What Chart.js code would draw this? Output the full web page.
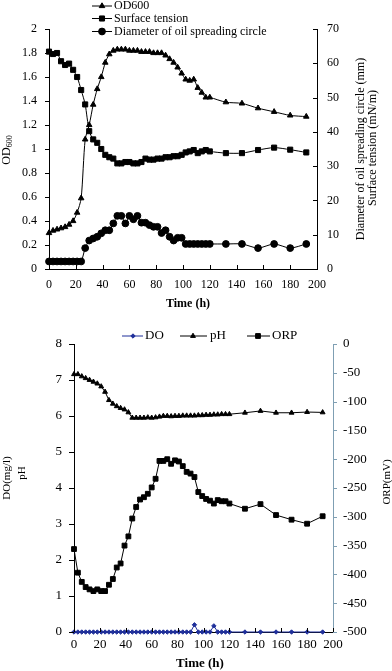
<!DOCTYPE html>
<html>
<head>
<meta charset="utf-8">
<script src="https://cdn.jsdelivr.net/npm/chart.js@4.4.0/dist/chart.umd.min.js"></script>
<style>
html, body { margin: 0; padding: 0; background: #fff; }
#grafHorni { position: absolute; left: 0; top: 0; }
#grafDolni { position: absolute; left: 0; top: 320px; }
</style>
</head>
<body>
<canvas id="grafHorni" width="392" height="316"></canvas>
<canvas id="grafDolni" width="392" height="351"></canvas>
<script>
// ---- data (time in h) ----
const timeH = [0,3,6,9,12,15,18,21,24,27,30,33,36,39,42,45,48,51,54,57,60,63,66,69,72,75,78,81,84,87,90,93,96,99,102,105,108,111,114,117,120,132,144,156,168,180,192];

// top chart
const od600 = [0.30,0.32,0.33,0.34,0.35,0.37,0.40,0.47,0.59,
  1.08,1.20,1.37,1.50,1.60,1.72,1.79,1.82,
  1.83,1.83,1.83,1.82,1.82,1.82,1.81,1.81,1.81,1.80,1.80,1.80,
  1.78,1.75,1.72,1.68,1.63,1.58,1.57,1.58,1.51,1.47,1.43,1.43,
  1.39,1.38,1.34,1.31,1.28,1.27];
const surfaceTension = [63.4,62.7,63.0,60.6,59.5,59.9,58.1,56.0,52.2,
  48.0,40.2,37.8,36.8,35.0,33.3,32.6,32.2,
  30.8,30.8,31.2,31.2,30.8,30.8,31.2,32.2,31.9,31.9,32.2,32.2,
  32.6,32.6,32.9,32.9,33.3,34.0,34.3,34.7,33.8,34.3,34.7,34.3,
  33.8,33.8,34.7,35.4,34.8,34.0];
const oilCircle = [2.2,2.2,2.2,2.2,2.2,2.2,2.2,2.2,2.2,
  6.1,8.3,8.9,9.4,10.4,11.3,11.3,13.3,
  15.5,15.5,13.3,15.5,14.5,15.5,13.5,13.5,12.8,12.3,12.3,10.5,
  11.3,9.4,8.3,9.1,9.1,7.3,7.3,7.3,7.3,7.3,7.3,7.3,
  7.3,7.3,6.1,7.3,6.1,7.3];

// bottom chart
const doVals = [0,0,0,0,0,0,0,0,0,
  0,0,0,0,0,0,0,0,
  0,0,0,0,0,0,0,0,0,0,0,0,
  0,0,0.2,0,0,0,0,0.17,0,0,0,0,
  0,0,0,0,0,0];
const phVals = [7.16,7.16,7.10,7.05,7.00,6.95,6.90,6.82,6.67,
  6.44,6.34,6.27,6.22,6.18,6.10,5.95,5.95,
  5.95,5.95,5.96,5.95,5.96,5.98,6.00,6.00,5.99,6.00,6.00,6.01,
  6.01,6.01,6.01,6.02,6.02,6.03,6.03,6.04,6.04,6.05,6.05,6.05,
  6.09,6.14,6.09,6.09,6.11,6.10];
const orpVals = [-356,-397,-413,-422,-426,-429,-426,-429,-429,
  -418,-408,-388,-381,-350,-334,-303,-283,
  -270,-266,-260,-249,-234,-203,-203,-200,-208,-202,-204,-212,
  -222,-225,-231,-257,-264,-269,-272,-277,-271,-273,-273,-277,
  -286,-278,-297,-305,-312,-299];

const xTicks = [0,20,40,60,80,100,120,140,160,180,200];

const SERIF = "'Liberation Serif', 'Times New Roman', serif";
const ORP_BARVA = "#7f9fb3";
const DO_BARVA = "#1f2f9a";

function body(vals) { return timeH.map(function(t, i) { return { x: t, y: vals[i] }; }); }

// tick marks, rotated titles and legend drawn on the canvas
const decor = {
  id: "decor",
  afterDraw: function(chart, args, opts) {
    const ctx = chart.ctx;
    ctx.save();
    (opts.ticks || []).forEach(function(t) {
      const sc = chart.scales[t.scale];
      ctx.strokeStyle = t.color; ctx.lineWidth = 1;
      ctx.beginPath();
      sc.ticks.forEach(function(tk) {
        const p = Math.round(sc.getPixelForValue(tk.value)) + 0.5;
        if (sc.isHorizontal()) { ctx.moveTo(p, sc.top); ctx.lineTo(p, sc.top + t.len); }
        else { const x = sc.position === "left" ? sc.right : sc.left; ctx.moveTo(x, p); ctx.lineTo(x + t.len, p); }
      });
      ctx.stroke();
    });
    ctx.fillStyle = "#000";
    (opts.titles || []).forEach(function(t) {
      ctx.save();
      ctx.translate(t.x, t.y);
      if (t.rot) ctx.rotate(t.rot);
      ctx.textBaseline = "middle";
      ctx.font = t.font;
      const w1 = ctx.measureText(t.text).width;
      let w2 = 0;
      if (t.sub) { ctx.font = t.subFont; w2 = ctx.measureText(t.sub).width; }
      const x0 = -(w1 + w2) / 2;
      ctx.textAlign = "left";
      ctx.font = t.font;
      ctx.fillText(t.text, x0, 0);
      if (t.sub) { ctx.font = t.subFont; ctx.fillText(t.sub, x0 + w1, 3); }
      ctx.restore();
    });
    (opts.legend || []).forEach(function(it) {
      const ds = chart.data.datasets[it.ds];
      ctx.strokeStyle = ds.borderColor; ctx.fillStyle = ds.backgroundColor; ctx.lineWidth = 1;
      ctx.beginPath(); ctx.moveTo(it.x0, it.y); ctx.lineTo(it.x1, it.y); ctx.stroke();
      Chart.helpers.drawPoint(ctx, { pointStyle: ds.pointStyle, radius: ds.pointRadius, rotation: 0, borderWidth: 1 }, it.mx, it.y);
      ctx.fillStyle = "#000";
      ctx.font = opts.legendFont; ctx.textAlign = "left"; ctx.textBaseline = "middle";
      ctx.fillText(ds.label, it.tx, it.y);
    });
    ctx.restore();
  }
};

function osa(extra) {
  return Object.assign({
    grid: { display: false, drawTicks: false },
    border: { display: true, color: "#000", width: 1 }
  }, extra);
}

window.addEventListener("DOMContentLoaded", function() {
  const fTop = { family: SERIF, size: 12 };
  new Chart(document.getElementById("grafHorni"), {
    type: "line",
    data: {
      datasets: [
        { label: "OD600", data: body(od600), yAxisID: "y", borderColor: "#000", backgroundColor: "#000",
          pointStyle: "triangle", pointRadius: 3.2, borderWidth: 1, tension: 0.25, clip: false },
        { label: "Surface tension", data: body(surfaceTension), yAxisID: "y2", borderColor: "#000", backgroundColor: "#000",
          pointStyle: "rect", pointRadius: 3.6, borderWidth: 1, tension: 0.25, clip: false },
        { label: "Diameter of oil spreading circle", data: body(oilCircle), yAxisID: "y2", borderColor: "#000", backgroundColor: "#000",
          pointStyle: "circle", pointRadius: 3.4, borderWidth: 1, tension: 0.25, clip: false }
      ]
    },
    options: {
      responsive: false, animation: false,
      layout: { padding: { top: 29, left: 0, right: 0, bottom: 0 } },
      plugins: {
        legend: { display: false }, tooltip: { enabled: false },
        decor: {
          ticks: [
            { scale: "x", len: -4, color: "#000" },
            { scale: "y", len: -4, color: "#000" },
            { scale: "y2", len: -4, color: "#000" }
          ],
          titles: [
            { text: "Time (h)", x: 188, y: 304, font: "bold 12px " + SERIF },
            { text: "OD", sub: "600", x: 7, y: 150, rot: -Math.PI / 2, font: "12px " + SERIF, subFont: "8px " + SERIF },
            { text: "Diameter of oil spreading circle (mm)", x: 361, y: 149, rot: -Math.PI / 2, font: "12px " + SERIF },
            { text: "Surface tension (mN/m)", x: 373, y: 148, rot: -Math.PI / 2, font: "12px " + SERIF }
          ],
          legendFont: "12px " + SERIF,
          legend: [
            { ds: 0, x0: 92, x1: 112, mx: 102, tx: 114, y: 6 },
            { ds: 1, x0: 92, x1: 112, mx: 102, tx: 114, y: 18.5 },
            { ds: 2, x0: 92, x1: 112, mx: 102, tx: 114, y: 31.5 }
          ]
        }
      },
      scales: {
        x: osa({ type: "linear", min: 0, max: 200,
          afterBuildTicks: function(s) { s.ticks = xTicks.map(function(v) { return { value: v }; }); },
          ticks: { font: fTop, color: "#000", padding: 9, maxRotation: 0 },
          afterFit: function(s) { s.height = 47; } }),
        y: osa({ position: "left", min: 0, max: 2,
          ticks: { stepSize: 0.2, font: fTop, color: "#000", padding: 12,
            callback: function(v) { return String(Math.round(v * 10) / 10); } },
          afterFit: function(s) { s.width = 49; } }),
        y2: osa({ position: "right", min: 0, max: 70,
          ticks: { stepSize: 10, font: fTop, color: "#000", padding: 10 },
          afterFit: function(s) { s.width = 75; } })
      }
    },
    plugins: [decor]
  });

  const fBot = { family: SERIF, size: 13 };
  new Chart(document.getElementById("grafDolni"), {
    type: "line",
    data: {
      datasets: [
        { label: "DO", data: body(doVals), yAxisID: "y", borderColor: DO_BARVA, backgroundColor: DO_BARVA,
          pointStyle: "rectRot", pointRadius: 2.2, borderWidth: 1, tension: 0, clip: false },
        { label: "pH", data: body(phVals), yAxisID: "y", borderColor: "#000", backgroundColor: "#000",
          pointStyle: "triangle", pointRadius: 2.8, borderWidth: 1, tension: 0, clip: false },
        { label: "ORP", data: body(orpVals), yAxisID: "y2", borderColor: "#000", backgroundColor: "#000",
          pointStyle: "rect", pointRadius: 3.4, borderWidth: 1, tension: 0, clip: false }
      ]
    },
    options: {
      responsive: false, animation: false,
      layout: { padding: { top: 24, left: 0, right: 0, bottom: 0 } },
      plugins: {
        legend: { display: false }, tooltip: { enabled: false },
        decor: {
          ticks: [
            { scale: "x", len: -4, color: "#000" },
            { scale: "y", len: -5, color: "#000" },
            { scale: "y2", len: 4, color: ORP_BARVA }
          ],
          titles: [
            { text: "Time (h)", x: 200, y: 344, font: "bold 13px " + SERIF },
            { text: "DO(mg/l)", x: 7, y: 158, rot: -Math.PI / 2, font: "11px " + SERIF },
            { text: "pH", x: 22, y: 153, rot: -Math.PI / 2, font: "11px " + SERIF },
            { text: "ORP(mV)", x: 387, y: 162, rot: -Math.PI / 2, font: "11px " + SERIF }
          ],
          legendFont: "13px " + SERIF,
          legend: [
            { ds: 0, x0: 122, x1: 143, mx: 133, tx: 145, y: 16 },
            { ds: 1, x0: 180, x1: 207, mx: 193, tx: 210, y: 16 },
            { ds: 2, x0: 247, x1: 270, mx: 258, tx: 272, y: 16 }
          ]
        }
      },
      scales: {
        x: osa({ type: "linear", min: 0, max: 200,
          afterBuildTicks: function(s) { s.ticks = xTicks.map(function(v) { return { value: v }; }); },
          ticks: { font: fBot, color: "#000", padding: 5, maxRotation: 0 },
          afterFit: function(s) { s.height = 39; } }),
        y: osa({ position: "left", min: 0, max: 8,
          ticks: { stepSize: 1, font: fBot, color: "#000", padding: 12 },
          afterFit: function(s) { s.width = 74; } }),
        y2: osa({ position: "right", min: -500, max: 0,
          border: { display: true, color: ORP_BARVA, width: 1 },
          ticks: { stepSize: 50, font: fBot, color: "#000", padding: 10 },
          afterFit: function(s) { s.width = 59; } })
      }
    },
    plugins: [decor]
  });
});
</script>
</body>
</html>
